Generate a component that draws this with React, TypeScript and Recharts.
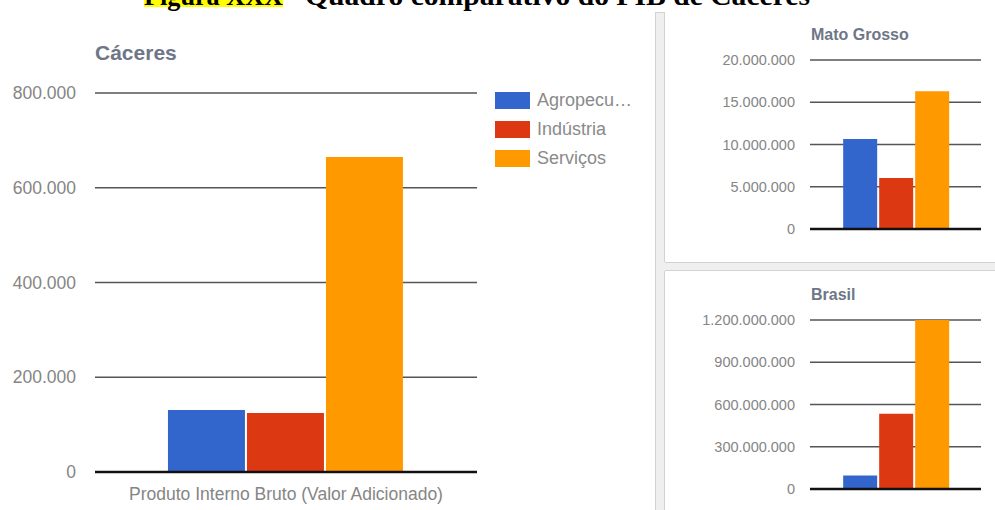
import { BarChart, Bar, XAxis, YAxis, CartesianGrid, Legend, ReferenceLine } from "recharts";

// valores
const categorias = ["Produto Interno Bruto (Valor Adicionado)"];
const setores = ["Agropecuária", "Indústria", "Serviços"];
const cores = ["#3366cc", "#dc3912", "#ff9900"];
const caceres = [131000, 124500, 665000];
const matoGrosso = [10650000, 6050000, 16300000];
const brasil = [95000000, 535000000, 1200000000];

const ticksCaceres = [0, 200000, 400000, 600000, 800000];
const ticksMT = [0, 5000000, 10000000, 15000000, 20000000];
const ticksBR = [0, 300000000, 600000000, 900000000, 1200000000];

const FONT = "'Liberation Sans', Arial, Helvetica, sans-serif";
const SERIF = "'Liberation Serif', 'Times New Roman', serif";
const TICK_COLOR = "#858585";
const TITLE_COLOR = "#6e7687";

const fmt = (v: number) => String(v).replace(/\B(?=(\d{3})+(?!\d))/g, ".");

const toRows = (values: number[]) =>
  categorias.map((c) => {
    const row: Record<string, string | number> = { categoria: c };
    setores.forEach((s, i) => (row[s] = values[i]));
    return row;
  });

const short = (s: string) => (s.length > 9 ? s.slice(0, 8) + "…" : s);

function Legenda({ payload }: any) {
  return (
    <div style={{ fontFamily: FONT, fontSize: 18, color: "#8a8a8a" }}>
      {(payload || []).map((p: any) => (
        <div key={p.value} style={{ display: "flex", alignItems: "center", height: 29 }}>
          <span style={{ display: "inline-block", width: 35, height: 17, background: p.color, marginRight: 7 }} />
          <span>{short(String(p.value))}</span>
        </div>
      ))}
    </div>
  );
}

interface SmallProps {
  values: number[];
  ticks: number[];
  top: number;
  height: number;
  marginTop: number;
  marginBottom: number;
}

function SmallChart({ values, ticks, top, height, marginTop, marginBottom }: SmallProps) {
  return (
    <div style={{ position: "absolute", left: 665, top }}>
      <BarChart
        width={330}
        height={height}
        data={toRows(values)}
        margin={{ top: marginTop, right: 14, bottom: marginBottom, left: 0 }}
        barCategoryGap="19.4%"
        barGap={2}
      >
        <CartesianGrid vertical={false} stroke="#555" strokeWidth={1.5} />
        <XAxis dataKey="categoria" hide />
        <YAxis
          width={145}
          domain={[0, ticks[ticks.length - 1]]}
          ticks={ticks}
          tickFormatter={fmt}
          axisLine={false}
          tickLine={false}
          tickSize={0}
          tickMargin={15}
          tick={{ fill: TICK_COLOR, fontSize: 14.5, fontFamily: FONT }}
        />
        {setores.map((s, i) => (
          <Bar key={s} dataKey={s} fill={cores[i]} isAnimationActive={false} />
        ))}
        <ReferenceLine y={0} stroke="#111" strokeWidth={2.5} />
      </BarChart>
    </div>
  );
}

export default function App() {
  return (
    <div style={{ position: "absolute", left: 0, top: 0, width: 995, height: 510, background: "#fff", overflow: "hidden" }}>
      <svg width={995} height={510} style={{ position: "absolute", left: 0, top: 0 }}>
        <rect x={144} y={0} width={139} height={7} fill="#ffff00" />
        <text x={144} y={5} fontFamily={SERIF} fontWeight="bold" fontSize={28} textLength={139} lengthAdjust="spacingAndGlyphs" fill="#000">
          Figura XXX
        </text>
        <text x={305} y={5} fontFamily={SERIF} fontWeight="bold" fontSize={28} textLength={505} lengthAdjust="spacingAndGlyphs" fill="#000">
          Quadro comparativo do PIB de Cáceres
        </text>

        <rect x={655} y={12} width={10} height={498} fill="#efefef" />
        <rect x={665} y={262} width={330} height={9} fill="#efefef" />
        <line x1={655.5} y1={12} x2={655.5} y2={510} stroke="#d2d2d2" />
        <line x1={664.5} y1={12} x2={664.5} y2={262} stroke="#d2d2d2" />
        <line x1={664.5} y1={271} x2={664.5} y2={510} stroke="#d2d2d2" />
        <line x1={655} y1={12.5} x2={665} y2={12.5} stroke="#d2d2d2" />
        <line x1={665} y1={262.5} x2={995} y2={262.5} stroke="#d2d2d2" />
        <line x1={665} y1={270.5} x2={995} y2={270.5} stroke="#d2d2d2" />

        <text x={95} y={60} fontFamily={FONT} fontWeight="bold" fontSize={21} fill={TITLE_COLOR}>Cáceres</text>
        <text x={811} y={40} fontFamily={FONT} fontWeight="bold" fontSize={16} fill={TITLE_COLOR}>Mato Grosso</text>
        <text x={811} y={300} fontFamily={FONT} fontWeight="bold" fontSize={16} fill={TITLE_COLOR}>Brasil</text>
      </svg>

      <div style={{ position: "absolute", left: 0, top: 0 }}>
        <BarChart
          width={655}
          height={510}
          data={toRows(caceres)}
          margin={{ top: 93, right: 178, bottom: 0, left: 0 }}
          barCategoryGap="19.1%"
          barGap={2}
        >
          <CartesianGrid vertical={false} stroke="#555" strokeWidth={1.5} />
          <XAxis
            dataKey="categoria"
            height={38}
            axisLine={{ stroke: "#111", strokeWidth: 2.5 }}
            tickLine={false}
            tickSize={0}
            tickMargin={16}
            tick={{ fill: TICK_COLOR, fontSize: 17.5, fontFamily: FONT }}
          />
          <YAxis
            width={95}
            domain={[0, 800000]}
            ticks={ticksCaceres}
            tickFormatter={fmt}
            axisLine={false}
            tickLine={false}
            tickSize={0}
            tickMargin={19}
            tick={{ fill: TICK_COLOR, fontSize: 17.5, fontFamily: FONT }}
          />
          <Legend
            layout="horizontal"
            verticalAlign="middle"
            align="center"
            content={<Legenda />}
            wrapperStyle={{ left: 495, top: 86, right: "auto", bottom: "auto", width: "auto" }}
          />
          {setores.map((s, i) => (
            <Bar key={s} dataKey={s} fill={cores[i]} isAnimationActive={false} />
          ))}
        </BarChart>
      </div>

      <SmallChart values={matoGrosso} ticks={ticksMT} top={12} height={250} marginTop={48} marginBottom={33} />
      <SmallChart values={brasil} ticks={ticksBR} top={271} height={239} marginTop={49} marginBottom={21} />
    </div>
  );
}
